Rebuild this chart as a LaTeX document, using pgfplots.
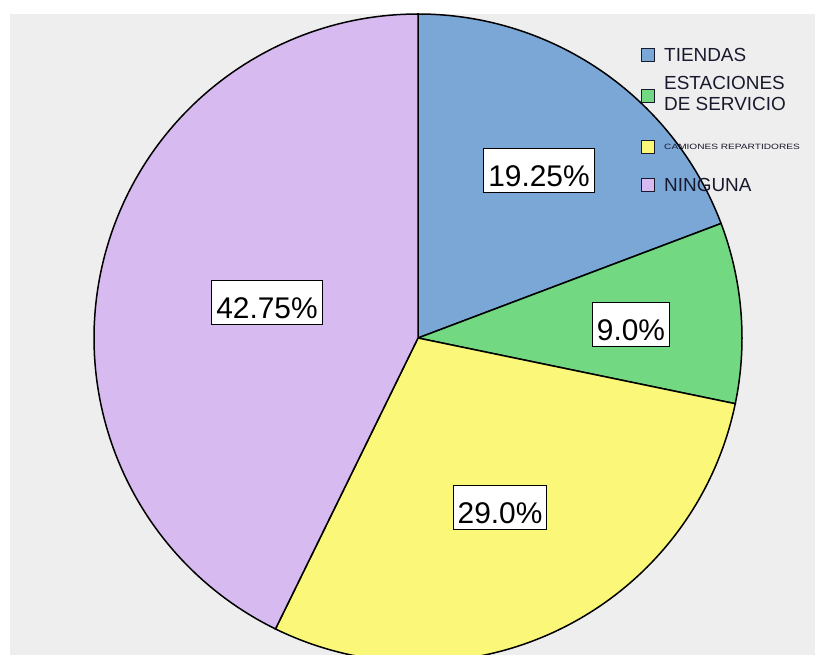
\documentclass[border=0pt]{standalone}
\usepackage{fontspec}
\setmainfont{Liberation Sans}
\usepackage{graphicx}
\usepackage{pgfplots}
\pgfplotsset{compat=1.18}

\definecolor{bggray}{RGB}{238,238,238}
\definecolor{cTie}{RGB}{123,167,215}
\definecolor{cEst}{RGB}{114,216,130}
\definecolor{cCam}{RGB}{250,247,121}
\definecolor{cNin}{RGB}{215,186,240}
\definecolor{legtext}{RGB}{25,25,45}

% shares (%)
\def\pTie{19.25}
\def\pEst{9.0}
\def\pCam{29.0}
\def\pNin{42.75}

\begin{document}
\begin{tikzpicture}[
  pct/.style={draw=black, fill=white, line width=1bp, inner sep=0pt, inner xsep=4.5bp,
    text height=38bp, text depth=6bp, font=\fontsize{30}{32}\selectfont},
  key/.style={draw=legtext, line width=1.5bp, minimum size=13bp, inner sep=0pt},
  leg/.style={anchor=west, text=legtext, align=left, inner sep=0pt, font=\fontsize{19}{21}\selectfont},
]
\begin{axis}[
  hide axis,
  x=1bp, y=1bp,
  xmin=-418, xmax=397,
  ymin=-317, ymax=338,
  clip=true,
  every axis plot/.append style={draw=black, line width=1.5bp, data cs=polar, samples=120},
]
\fill[bggray] (axis cs:-408,-317) rectangle (axis cs:397,324);

% slices, clockwise from 12 o'clock
\addplot[fill=cTie, domain={90-3.6*\pTie}:90] ({x},{324}) -- (axis cs:0,0) -- cycle;
\addplot[fill=cEst, domain={90-3.6*(\pTie+\pEst)}:{90-3.6*\pTie}] ({x},{324}) -- (axis cs:0,0) -- cycle;
\addplot[fill=cCam, domain={90-3.6*(\pTie+\pEst+\pCam)}:{90-3.6*(\pTie+\pEst)}] ({x},{324}) -- (axis cs:0,0) -- cycle;
\addplot[fill=cNin, domain={90-3.6*(\pTie+\pEst+\pCam+\pNin)}:{90-3.6*(\pTie+\pEst+\pCam)}] ({x},{324}) -- (axis cs:0,0) -- cycle;

% value labels
\node[pct] at (axis cs:121,167) {19.25\%};
\node[pct] at (axis cs:213,13) {9.0\%};
\node[pct] at (axis cs:82,-170) {29.0\%};
\node[pct] at (axis cs:-151,35) {42.75\%};

% legend
\node[key, fill=cTie] at (axis cs:230,283) {};
\node[key, fill=cEst] at (axis cs:230,242) {};
\node[key, fill=cCam] at (axis cs:230,191) {};
\node[key, fill=cNin] at (axis cs:230,153) {};
\node[leg] at (axis cs:246,283) {TIENDAS};
\node[leg] at (axis cs:246,244.5) {ESTACIONES\\DE SERVICIO};
\node[leg] at (axis cs:246,191) {\scalebox{1.45}[1.1]{\fontsize{7}{8}\selectfont CAMIONES REPARTIDORES}};
\node[leg] at (axis cs:246,153) {NINGUNA};
\end{axis}
\pgfresetboundingbox
\path (current axis.south west) rectangle (current axis.north east);
\end{tikzpicture}
\end{document}
